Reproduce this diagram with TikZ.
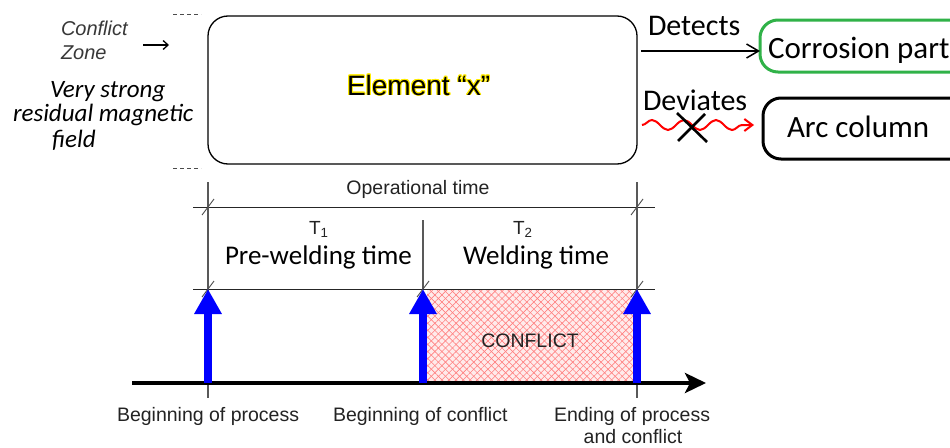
\documentclass[tikz,border=0pt]{standalone}
\usepackage{fontspec}
\setmainfont{Liberation Sans}
\newfontfamily\calfont{Carlito}
\usetikzlibrary{arrows.meta,decorations.pathmorphing,patterns.meta}
\definecolor{boxgreen}{RGB}{48,178,72}
\definecolor{txtgray}{RGB}{35,35,35}
\tikzset{
  ar/.style={font=\fontsize{#1}{#1}\selectfont, inner sep=0pt, outer sep=0pt, text=txtgray, anchor=base west},
  ca/.style={font=\calfont\fontsize{#1}{#1}\selectfont, inner sep=0pt, outer sep=0pt, text=black, anchor=base west},
  cai/.style={font=\calfont\itshape\fontsize{#1}{#1}\selectfont, inner sep=0pt, outer sep=0pt, text=black, anchor=base west},
  glowtxt/.style={font=\fontsize{28}{28}\selectfont, inner sep=0pt, outer sep=0pt, text=yellow!95!orange, anchor=base west},
  tline/.style={line width=1pt, black!85},
  vline/.style={line width=1.2pt, black!65},
  slash/.style={line width=0.9pt, black!70},
  bluearrow/.style={blue, line width=8pt, -{Triangle[length=25pt,width=26pt]}},
  rbox/.style={draw, line width=3pt, rounded corners=18pt, inner sep=0pt, outer sep=0pt},
}
\begin{document}
\begin{tikzpicture}[x=1pt,y=-1pt]
\useasboundingbox (0,0) rectangle (950,447);
\begin{scope}
\clip (0,0) rectangle (950,447);
\fill[white] (0,0) rectangle (950,447);

% dashed marks
\draw[dash pattern=on 4pt off 3pt, line width=0.8pt, black!70] (173,14) -- (201,14);
\draw[dash pattern=on 4pt off 3pt, line width=0.8pt, black!70] (173,168) -- (201,168);

% main element box
\node[draw=black, line width=1.3pt, rounded corners=20pt, minimum width=429pt, minimum height=148pt, inner sep=0pt, outer sep=0pt] (elem) at (422.5,90) {};
\foreach \a in {0,22.5,...,337.5}
  \node[glowtxt, shift={(\a:0.9pt)}] (glow\a) at (347,95) {Element “x”};
\node[ar=28, text=black] (etxt) at (347,95) {Element “x”};

% left texts
\node[ar=20, font=\itshape\fontsize{20}{20}\selectfont, text=black!78] (cz1) at (61,35) {Conflict};
\node[ar=20, font=\itshape\fontsize{20}{20}\selectfont, text=black!78] (cz2) at (61,59) {Zone};
\coordinate (cza) at (143,45);
\coordinate (czb) at (169,45);
\draw[-{Straight Barb[length=5pt,width=9pt]}, line width=1.3pt] (cza) -- (czb);
\node[cai=25] (vs1) at (50,97) {Very strong};
\node[cai=25] (vs2) at (13,121) {residual magnetic};
\node[cai=25] (vs3) at (52,147) {field};

% right side
\node[rbox, draw=boxgreen, minimum width=230pt, minimum height=52pt] (corr) at (875,46) {};
\node[ca=31] (corrtxt) at (768,58) {Corrosion part};
\node[rbox, draw=black, minimum width=227pt, minimum height=61pt] (arc) at (876.5,128.5) {};
\node[ca=31] (arctxt) at (787,137) {Arc column};
\node[ca=30] (det) at (648,35) {Detects};
\node[ca=30] (dev) at (643,110) {Deviates};
\coordinate (d1) at (641,51);
\draw[line width=1.5pt, -{Straight Barb[length=12pt,width=14pt]}] (d1) -- (corr.west |- d1);
\coordinate (w1) at (642,125);
\coordinate (w2) at (754,125);
\draw[red, line width=2pt, decorate, decoration={snake, amplitude=5pt, segment length=32pt, post length=9pt}, -{Straight Barb[length=8pt,width=12pt]}] (w1) -- (w2);
\draw[line width=2.6pt] (677,113) -- (707,142);
\draw[line width=2.6pt] (705,114) -- (678,141);

% timeline frame
\draw[tline] (193,207) -- (655,207);
\draw[tline] (193,289) -- (655,289);
\fill[red!8] (427,290) rectangle (633,381);
\fill[pattern={Lines[angle=45,distance=5pt,line width=0.6pt]}, pattern color=red!50] (427,290) rectangle (633,381);
\fill[pattern={Lines[angle=-45,distance=5pt,line width=0.6pt]}, pattern color=red!50] (427,290) rectangle (633,381);
\draw[vline] (208,182) -- (208,398);
\draw[vline] (637,182) -- (637,398);
\draw[vline] (423,220) -- (423,289);
\foreach \p in {(208,207),(637,207),(208,289),(423,289),(637,289)}
  \draw[slash, shift={\p}] (-6,8) -- (6,-8);

\node[ar=19.5, anchor=base] (optime) at (418,194) {Operational time};
\node[ar=19] (t1) at (309,234) {T\textsubscript{1}};
\node[ca=27] (pre) at (225,264) {Pre-welding time};
\node[ar=19] (t2) at (513,234) {T\textsubscript{2}};
\node[ca=27] (weld) at (463,264) {Welding time};
\node[ar=19.5, anchor=base] (confl) at (530,347) {CONFLICT};

% axis and arrows
\coordinate (ax0) at (132,383);
\coordinate (ax1) at (706,383);
\draw[line width=4.5pt, -{Stealth[length=21pt,width=20pt,inset=5pt]}] (ax0) -- (ax1);
\coordinate (b1) at (208,383); \coordinate (b1t) at (208,289);
\coordinate (b2) at (423,383); \coordinate (b2t) at (423,289);
\coordinate (b3) at (637,383); \coordinate (b3t) at (637,289);
\draw[bluearrow] (b1) -- (b1t);
\draw[bluearrow] (b2) -- (b2t);
\draw[bluearrow] (b3) -- (b3t);

\node[ar=19.5] (lab1) at (117,421) {Beginning of process};
\node[ar=19.5] (lab2) at (333,421) {Beginning of conflict};
\node[ar=19.5] (lab3) at (554,421) {Ending of process};
\node[ar=19.5, anchor=base] (lab4) at (633,443) {and conflict};
\end{scope}
\end{tikzpicture}
\end{document}
